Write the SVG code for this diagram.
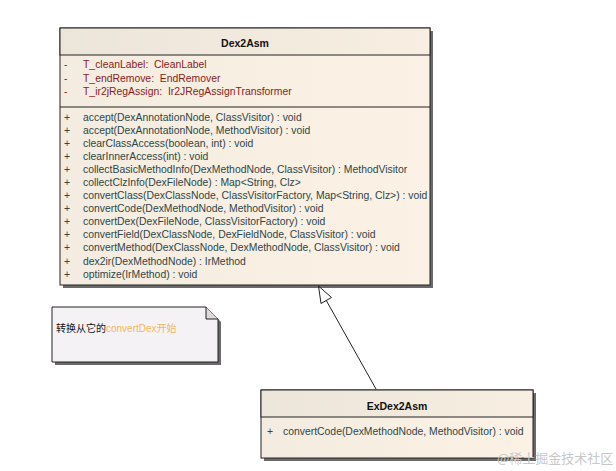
<svg xmlns="http://www.w3.org/2000/svg" width="616" height="471" viewBox="0 0 616 471">
<defs>
<linearGradient id="hdr" x1="0" y1="0" x2="1" y2="0">
<stop offset="0" stop-color="#ECE5D9"/>
<stop offset="1" stop-color="#F8EEE2"/>
</linearGradient>
<linearGradient id="body" x1="0" y1="0" x2="1" y2="0">
<stop offset="0" stop-color="#F4ECE0"/>
<stop offset="1" stop-color="#FCF1E5"/>
</linearGradient>
<style>
.box{stroke:#222;stroke-width:1;}
.shadow{fill:#6a6a6a;}
.title{font-family:"Liberation Sans",Arial,sans-serif;font-size:10.5px;font-weight:bold;fill:#111;text-anchor:middle;}
.attr{font-family:"Liberation Sans",Arial,sans-serif;font-size:10.4px;fill:#8A1C1C;}
.meth{font-family:"Liberation Sans",Arial,sans-serif;font-size:10.4px;fill:#2E4646;}
.note{font-family:"Liberation Sans","Noto Sans CJK SC",sans-serif;font-size:10px;}
.conn{stroke:#222;stroke-width:1;fill:none;}
</style>
</defs>
<rect width="616" height="471" fill="#ffffff"/>

<g id="Dex2Asm">
<rect class="shadow" x="63" y="31" width="370" height="257"/>
<rect class="box" x="60" y="28" width="370" height="257" fill="url(#body)"/>
<rect class="box" x="60" y="28" width="370" height="27" fill="url(#hdr)"/>
<line class="box" x1="60" y1="107" x2="430" y2="107"/>
<text class="title" x="245" y="47">Dex2Asm</text>
<g class="attr">
<text x="64" y="68">-</text><text x="83" y="68">T_cleanLabel:&#160; CleanLabel</text>
<text x="64" y="82">-</text><text x="83" y="82">T_endRemove:&#160; EndRemover</text>
<text x="64" y="95">-</text><text x="83" y="95">T_ir2jRegAssign:&#160; Ir2JRegAssignTransformer</text>
</g>
<g class="meth">
<text x="64" y="121">+</text><text x="83" y="121">accept(DexAnnotationNode, ClassVisitor) : void</text>
<text x="64" y="134">+</text><text x="83" y="134">accept(DexAnnotationNode, MethodVisitor) : void</text>
<text x="64" y="147">+</text><text x="83" y="147">clearClassAccess(boolean, int) : void</text>
<text x="64" y="160">+</text><text x="83" y="160">clearInnerAccess(int) : void</text>
<text x="64" y="173">+</text><text x="83" y="173">collectBasicMethodInfo(DexMethodNode, ClassVisitor) : MethodVisitor</text>
<text x="64" y="186">+</text><text x="83" y="186">collectClzInfo(DexFileNode) : Map&lt;String, Clz&gt;</text>
<text x="64" y="199">+</text><text x="83" y="199">convertClass(DexClassNode, ClassVisitorFactory, Map&lt;String, Clz&gt;) : void</text>
<text x="64" y="212">+</text><text x="83" y="212">convertCode(DexMethodNode, MethodVisitor) : void</text>
<text x="64" y="225">+</text><text x="83" y="225">convertDex(DexFileNode, ClassVisitorFactory) : void</text>
<text x="64" y="238">+</text><text x="83" y="238">convertField(DexClassNode, DexFieldNode, ClassVisitor) : void</text>
<text x="64" y="251">+</text><text x="83" y="251">convertMethod(DexClassNode, DexMethodNode, ClassVisitor) : void</text>
<text x="64" y="265">+</text><text x="83" y="265">dex2ir(DexMethodNode) : IrMethod</text>
<text x="64" y="278">+</text><text x="83" y="278">optimize(IrMethod) : void</text>
</g>
</g>

<g id="ExDex2Asm">
<rect class="shadow" x="264" y="393" width="272" height="68"/>
<rect class="box" x="261" y="390" width="272" height="68" fill="url(#body)"/>
<rect class="box" x="261" y="390" width="272" height="27" fill="url(#hdr)"/>
<text class="title" x="397" y="410">ExDex2Asm</text>
<g class="meth">
<text x="267" y="435">+</text><text x="283" y="435">convertCode(DexMethodNode, MethodVisitor) : void</text>
</g>
</g>

<g id="note">
<path class="shadow" d="M55 310 H209 L221 322 V365 H55 Z"/>
<path class="box" d="M52 307 H206 L218 319 V362 H52 Z" fill="#F5F2F6"/>
<path class="box" d="M206 307 V319 H218" fill="#DCD8DC"/>
<text class="note" x="56" y="332"><tspan fill="#111">转换从它的</tspan><tspan fill="#F2B65C">convertDex开始</tspan></text>
</g>

<g id="connectors">
<line class="conn" x1="376" y1="389" x2="326" y2="300"/>
<path class="conn" d="M318.5 286 L321 303.5 L331.5 297.5 Z" fill="#F6F3EA"/>
</g>

<text x="497" y="463" font-family="'Noto Sans CJK SC',sans-serif" font-size="13" fill="#C8C8C8">@稀土掘金技术社区</text>
</svg>
